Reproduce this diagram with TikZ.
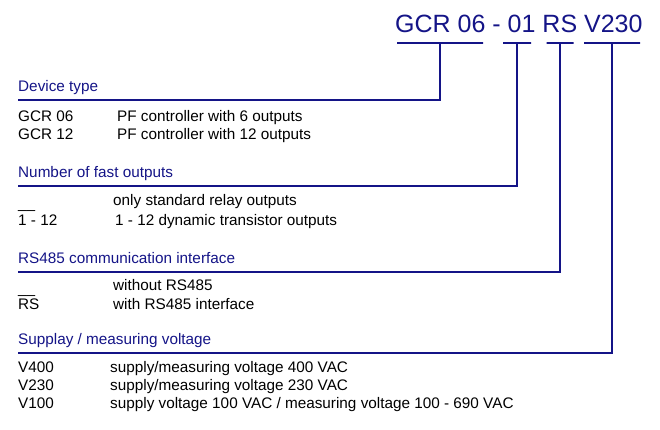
\documentclass[tikz,border=0pt]{standalone}
\usepackage{fontspec}
\setmainfont{Liberation Sans}
\usepackage{xcolor}
\usepackage{tikz}
\usetikzlibrary{positioning}
\definecolor{navy}{RGB}{20,20,135}

\begin{document}
\begin{tikzpicture}[
x=1pt, y=-1pt,
title/.style={anchor=base west, inner sep=0pt, text=navy, font=\fontsize{25}{30}\selectfont},
bar/.style={draw=navy, line width=1.6pt, inner sep=0pt, minimum height=0pt},
head/.style={anchor=south west, inner sep=0pt, text depth=8pt, text=navy, font=\fontsize{15.3}{18}\selectfont},
entry/.style={anchor=base west, inner sep=0pt, font=\fontsize{15.3}{18}\selectfont},
link/.style={draw=navy, line width=1.6pt}
]
\useasboundingbox (0,0) rectangle (660,430);

\node[title] (code) at (395,33) {GCR 06 - 01 RS V230};
\node[bar, minimum width=86pt] (gcrbar) at (440,43) {};
\node[bar, minimum width=28pt] (fastbar) at (517,43) {};
\node[bar, minimum width=27pt] (rsbar) at (560,43) {};
\node[bar, minimum width=56pt] (voltbar) at (612,43) {};

\node[head] (devhead) at (18,100) {Device type};
\node[head] (fasthead) at (18,186) {Number of fast outputs};
\node[head] (rshead) at (18,272) {RS485 communication interface};
\node[head] (volthead) at (18,353) {Supplay / measuring voltage};

\draw[link] (gcrbar) |- (devhead.south west);
\draw[link] (fastbar) |- (fasthead.south west);
\draw[link] (rsbar) |- (rshead.south west);
\draw[link] (voltbar) |- (volthead.south west);

\node[entry] (gcr06) at (18,122) {GCR 06};
\node[entry] (gcr06txt) at (117,122) {PF controller with 6 outputs};
\node[entry] (gcr12) at (18,140) {GCR 12};
\node[entry] (gcr12txt) at (117,140) {PF controller with 12 outputs};

\node[entry] (nofast) at (18,208) {\_\_};
\node[entry] (nofasttxt) at (113,205) {only standard relay outputs};
\node[entry] (somefast) at (18,225) {1 - 12};
\node[entry] (somefasttxt) at (115,225) {1 - 12 dynamic transistor outputs};

\node[entry] (nors) at (18,293) {\_\_};
\node[entry] (norstxt) at (113,290) {without RS485};
\node[entry] (withrs) at (18,309) {RS};
\node[entry] (withrstxt) at (113,309) {with RS485 interface};

\node[entry] (v400) at (18,372) {V400};
\node[entry] (v400txt) at (110,372) {supply/measuring voltage 400 VAC};
\node[entry] (v230) at (18,390) {V230};
\node[entry] (v230txt) at (110,390) {supply/measuring voltage 230 VAC};
\node[entry] (v100) at (18,408) {V100};
\node[entry] (v100txt) at (110,408) {supply voltage 100 VAC / measuring voltage 100 - 690 VAC};
\end{tikzpicture}
\end{document}
